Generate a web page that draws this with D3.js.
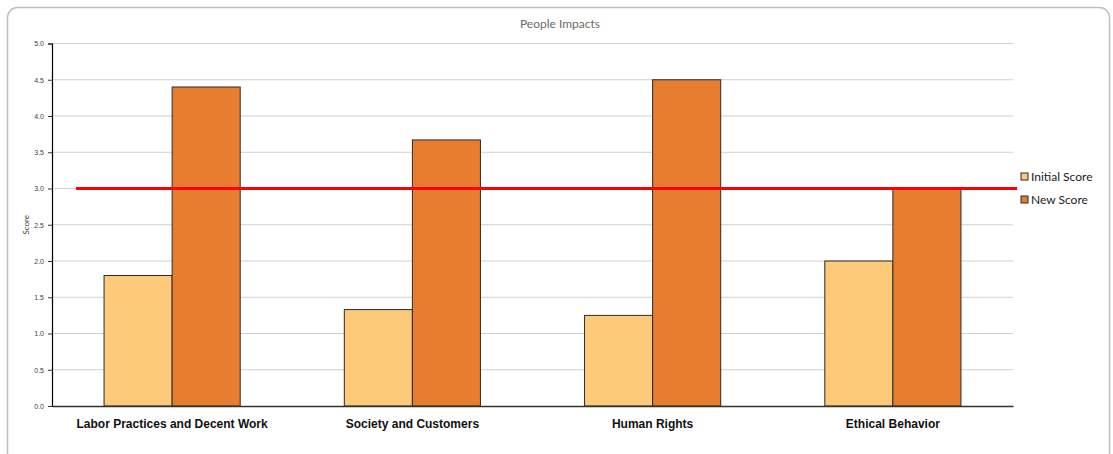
<!DOCTYPE html>
<html>
<head>
<meta charset="utf-8">
<script src="https://cdn.jsdelivr.net/npm/d3@7"></script>
<style>
  body { margin: 0; background: #fff; }
  svg { font-family: Lato, "Open Sans", sans-serif; }
</style>
</head>
<body>
<svg width="1113" height="454"></svg>
<script>
var categories = ["Labor Practices and Decent Work", "Society and Customers", "Human Rights", "Ethical Behavior"];
var seriesNames = ["Initial Score", "New Score"];
var initialScore = [1.8, 1.33, 1.25, 2.0];
var newScore = [4.4, 3.67, 4.5, 3.0];
var targetScore = [3.0];
var yTicks = [0, 0.5, 1, 1.5, 2, 2.5, 3, 3.5, 4, 4.5, 5];
var colors = ["#fdca7a", "#e97d2f"];

var svg = d3.select("svg"),
  margin = {top: 43.5, right: 100, bottom: 48, left: 52},
  width = +svg.attr("width") - margin.left - margin.right,
  height = +svg.attr("height") - margin.top - margin.bottom;

// outer frame
svg.append("rect")
  .attr("x", 7.5).attr("y", 7.5)
  .attr("width", 1102).attr("height", 460)
  .attr("rx", 10)
  .attr("fill", "none")
  .attr("stroke", "#bfbfbf")
  .attr("stroke-width", 1.5);

var g = svg.append("g").attr("transform", "translate(" + margin.left + "," + margin.top + ")");

var x0 = d3.scaleBand().domain(categories).range([0, width]);
var bw = x0.bandwidth();
var x1 = d3.scaleBand().domain(seriesNames).range([bw * 0.2167, bw * 0.7833]);
var y = d3.scaleLinear().domain([0, 5]).range([height, 0]);

var rows = categories.map(function(c, i) {
  return {cat: c, values: [initialScore[i], newScore[i]]};
});

// gridlines
g.append("g")
  .selectAll("line")
  .data(yTicks.filter(function(d) { return d > 0; }))
  .enter().append("line")
  .attr("x1", 0).attr("x2", width)
  .attr("y1", function(d) { return y(d); })
  .attr("y2", function(d) { return y(d); })
  .attr("stroke", "#d0d0d0")
  .attr("stroke-width", 1);

// bars
g.append("g")
  .selectAll("g")
  .data(rows)
  .enter().append("g")
  .attr("transform", function(d) { return "translate(" + x0(d.cat) + ",0)"; })
  .selectAll("rect")
  .data(function(d) { return d.values.map(function(v, i) { return {key: seriesNames[i], value: v, i: i}; }); })
  .enter().append("rect")
  .attr("x", function(d) { return x1(d.key); })
  .attr("y", function(d) { return y(d.value); })
  .attr("width", x1.bandwidth())
  .attr("height", function(d) { return height - y(d.value); })
  .attr("fill", function(d) { return colors[d.i]; })
  .attr("stroke", "#2b2b2b")
  .attr("stroke-width", 1);

// y axis
var yAxis = g.append("g")
  .call(d3.axisLeft(y).tickValues(yTicks).tickFormat(d3.format(".1f")).tickSize(4));
yAxis.select(".domain").attr("stroke", "#000").attr("stroke-width", 1.2);
yAxis.selectAll(".tick line").attr("stroke", "#333");
yAxis.selectAll("text").attr("font-size", 7).attr("fill", "#404040").attr("x", -8);

// x axis
var xAxis = g.append("g")
  .attr("transform", "translate(0," + height + ")")
  .call(d3.axisBottom(x0).tickSize(0).tickSizeOuter(0));
xAxis.select(".domain").attr("stroke", "#333").attr("stroke-width", 1.5);
xAxis.selectAll("text")
  .attr("dy", 0)
  .attr("y", 22)
  .attr("font-size", 12)
  .attr("font-weight", "bold")
  .attr("fill", "#111");

// target line
g.append("g")
  .selectAll("line")
  .data(targetScore)
  .enter().append("line")
  .attr("x1", bw * 0.1)
  .attr("x2", width + 4)
  .attr("y1", function(d) { return y(d); })
  .attr("y2", function(d) { return y(d); })
  .attr("stroke", "#ff0000")
  .attr("stroke-width", 3);

// y axis title
svg.append("text")
  .attr("transform", "translate(29," + (margin.top + height / 2) + ") rotate(-90)")
  .attr("text-anchor", "middle")
  .attr("font-size", 8)
  .attr("fill", "#404040")
  .text("Score");

// chart title
svg.append("text")
  .attr("x", 560).attr("y", 28)
  .attr("text-anchor", "middle")
  .attr("font-size", 12)
  .attr("fill", "#6b6b6b")
  .text("People Impacts");

// legend
var legend = svg.append("g")
  .attr("transform", "translate(" + (margin.left + width + 8) + "," + 173 + ")")
  .selectAll("g")
  .data(seriesNames)
  .enter().append("g")
  .attr("transform", function(d, i) { return "translate(0," + i * 23 + ")"; });
legend.append("rect")
  .attr("width", 7).attr("height", 7)
  .attr("fill", function(d, i) { return colors[i]; })
  .attr("stroke", "#2b2b2b")
  .attr("stroke-width", 1);
legend.append("text")
  .attr("x", 10).attr("y", 8)
  .attr("font-size", 12)
  .attr("fill", "#222")
  .text(function(d) { return d; });
</script>
</body>
</html>
